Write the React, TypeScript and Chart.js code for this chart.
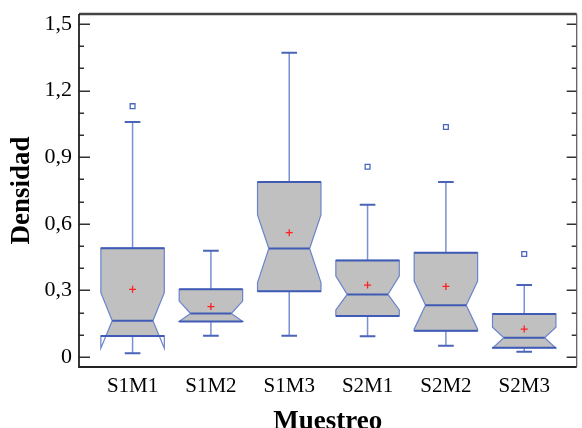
import React, { useEffect, useRef } from "react";
import { Chart, registerables } from "chart.js";

Chart.register(...registerables);

// ---- Data ----
const categories = ["S1M1", "S1M2", "S1M3", "S2M1", "S2M2", "S2M3"];
const whiskerLow = [0.017, 0.096, 0.096, 0.093, 0.051, 0.024];
const q1 = [0.095, 0.16, 0.296, 0.185, 0.118, 0.042];
const medians = [0.163, 0.196, 0.489, 0.282, 0.233, 0.087];
const q3 = [0.49, 0.305, 0.788, 0.435, 0.47, 0.194];
const whiskerHigh = [1.059, 0.479, 1.371, 0.686, 0.788, 0.324];
const means = [0.305, 0.227, 0.56, 0.324, 0.318, 0.126];
const notchLow = [0.04, 0.16, 0.335, 0.212, 0.125, 0.04];
const notchHigh = [0.29, 0.252, 0.64, 0.365, 0.342, 0.134];
const outliers = [[1.13], [], [], [0.857], [1.036], [0.464]];
const yTickValues = [0, 0.3, 0.6, 0.9, 1.2, 1.5];

const Y_MIN = -0.045;
const Y_MAX = 1.545;
const X_MIN = -0.684;
const X_MAX = 5.67;

const BOX_HALF = 0.405;
const NOTCH_HALF = 0.26;
const CAP_HALF = 0.1;

const FONT = "'Liberation Serif', 'Times New Roman', serif";

const boxPlugin = {
  id: "notchedBoxes",
  beforeDatasetsDraw(chart: any) {
    const { ctx } = chart;
    const xs = chart.scales.x;
    const ys = chart.scales.y;
    ctx.save();
    for (let i = 0; i < categories.length; i++) {
      const cx = xs.getPixelForValue(i);
      const half = xs.getPixelForValue(i + BOX_HALF) - cx;
      const nh = xs.getPixelForValue(i + NOTCH_HALF) - cx;
      const ch = xs.getPixelForValue(i + CAP_HALF) - cx;
      const yQ1 = ys.getPixelForValue(q1[i]);
      const yQ3 = ys.getPixelForValue(q3[i]);
      const yMed = ys.getPixelForValue(medians[i]);
      const yNL = ys.getPixelForValue(notchLow[i]);
      const yNH = ys.getPixelForValue(notchHigh[i]);
      const yLo = ys.getPixelForValue(whiskerLow[i]);
      const yHi = ys.getPixelForValue(whiskerHigh[i]);

      const path = () => {
        ctx.beginPath();
        ctx.moveTo(cx - half, yQ3);
        ctx.lineTo(cx + half, yQ3);
        ctx.lineTo(cx + half, yNH);
        ctx.lineTo(cx + nh, yMed);
        ctx.lineTo(cx + half, yNL);
        ctx.lineTo(cx + half, yQ1);
        ctx.lineTo(cx - half, yQ1);
        ctx.lineTo(cx - half, yNL);
        ctx.lineTo(cx - nh, yMed);
        ctx.lineTo(cx - half, yNH);
        ctx.closePath();
      };

      // whiskers
      ctx.strokeStyle = "#7A90D4";
      ctx.lineWidth = 1.5;
      ctx.beginPath();
      ctx.moveTo(cx, yQ3);
      ctx.lineTo(cx, yHi);
      ctx.moveTo(cx, yQ1);
      ctx.lineTo(cx, yLo);
      ctx.stroke();
      ctx.strokeStyle = "#4A64B8";
      ctx.lineWidth = 2;
      ctx.beginPath();
      ctx.moveTo(cx - ch, yHi);
      ctx.lineTo(cx + ch, yHi);
      ctx.moveTo(cx - ch, yLo);
      ctx.lineTo(cx + ch, yLo);
      ctx.stroke();

      // fill (clipped to the box)
      ctx.save();
      ctx.beginPath();
      ctx.rect(cx - half - 2, yQ3, 2 * half + 4, yQ1 - yQ3);
      ctx.clip();
      path();
      ctx.fillStyle = "#C0C0C0";
      ctx.fill();
      ctx.restore();

      // outline
      path();
      ctx.strokeStyle = "#6B83CC";
      ctx.lineWidth = 1.2;
      ctx.stroke();

      // quartile & median lines
      ctx.strokeStyle = "#3F5BB5";
      ctx.lineWidth = 2;
      ctx.beginPath();
      ctx.moveTo(cx - half, yQ3);
      ctx.lineTo(cx + half, yQ3);
      ctx.moveTo(cx - half, yQ1);
      ctx.lineTo(cx + half, yQ1);
      ctx.moveTo(cx - nh, yMed);
      ctx.lineTo(cx + nh, yMed);
      ctx.stroke();
    }
    ctx.restore();
  },
  afterDraw(chart: any) {
    const { ctx, chartArea } = chart;
    const ys = chart.scales.y;
    const { left, right, top, bottom } = chartArea;
    ctx.save();
    // ticks inside on left and right
    ctx.strokeStyle = "#333333";
    ctx.lineWidth = 1.5;
    ctx.beginPath();
    for (let k = 0; k <= 15; k++) {
      const v = k / 10;
      const y = Math.round(ys.getPixelForValue(v)) + 0.25;
      const major = k % 3 === 0;
      const lenL = major ? 11 : 5;
      const lenR = major ? 10 : 5;
      ctx.moveTo(left, y);
      ctx.lineTo(left + lenL, y);
      ctx.moveTo(right, y);
      ctx.lineTo(right - lenR, y);
    }
    ctx.stroke();
    // frame
    ctx.strokeStyle = "#444444";
    ctx.lineWidth = 2.5;
    ctx.beginPath();
    ctx.moveTo(left, top);
    ctx.lineTo(right, top);
    ctx.stroke();
    ctx.strokeStyle = "#222222";
    ctx.lineWidth = 1.8;
    ctx.beginPath();
    ctx.moveTo(left, top);
    ctx.lineTo(left, bottom);
    ctx.lineTo(right, bottom);
    ctx.stroke();
    ctx.strokeStyle = "#555555";
    ctx.lineWidth = 1.2;
    ctx.beginPath();
    ctx.moveTo(right, top);
    ctx.lineTo(right, bottom);
    ctx.stroke();
    ctx.restore();
  },
};

export default function App() {
  const ref = useRef<HTMLCanvasElement | null>(null);

  useEffect(() => {
    if (!ref.current) return;
    const meanPoints = categories.map((_, i) => ({ x: i, y: means[i] }));
    const outlierPoints: { x: number; y: number }[] = [];
    outliers.forEach((arr, i) => arr.forEach((v) => outlierPoints.push({ x: i, y: v })));

    const chart = new Chart(ref.current, {
      type: "scatter",
      data: {
        datasets: [
          {
            label: "Media",
            data: meanPoints,
            pointStyle: "cross",
            pointRadius: 3.5,
            borderColor: "#FF2020",
            borderWidth: 1.3,
            backgroundColor: "#FF2020",
          },
          {
            label: "Atípicos",
            data: outlierPoints,
            pointStyle: "rect",
            pointRadius: 3.4,
            borderColor: "#4A66C0",
            borderWidth: 1.3,
            backgroundColor: "#FFFFFF",
          },
        ],
      },
      options: {
        animation: false,
        responsive: false,
        devicePixelRatio: 1,
        layout: { padding: { top: 14, right: 1, left: 0, bottom: 0 } },
        plugins: {
          legend: { display: false },
          tooltip: { enabled: false },
        },
        scales: {
          x: {
            type: "linear",
            min: X_MIN,
            max: X_MAX,
            afterFit: (s: any) => {
              s.height = 61;
              s.paddingLeft = 0;
              s.paddingRight = 0;
              s.paddingTop = 0;
              s.paddingBottom = 0;
            },
            afterBuildTicks: (s: any) => {
              s.ticks = categories.map((_, i) => ({ value: i }));
            },
            ticks: {
              callback: (v: any) => categories[Math.round(Number(v))] ?? "",
              font: { family: FONT, size: 21 },
              color: "#000000",
              padding: 6.5,
              maxRotation: 0,
              autoSkip: false,
            },
            grid: { display: false, drawTicks: false, tickLength: 0 },
            border: { display: false },
            title: {
              display: true,
              text: "Muestreo",
              color: "#000000",
              font: { family: FONT, size: 27, weight: "bold", lineHeight: 1 },
              padding: { top: 0, bottom: -8 },
            },
          },
          y: {
            type: "linear",
            min: Y_MIN,
            max: Y_MAX,
            afterFit: (s: any) => {
              s.width = 79;
              s.paddingLeft = 0;
              s.paddingRight = 0;
              s.paddingTop = 0;
              s.paddingBottom = 0;
            },
            afterBuildTicks: (s: any) => {
              s.ticks = yTickValues.map((v) => ({ value: v }));
            },
            ticks: {
              callback: (v: any) => String(v).replace(".", ","),
              font: { family: FONT, size: 22 },
              color: "#000000",
              padding: 7,
              autoSkip: false,
            },
            grid: { display: false, drawTicks: false, tickLength: 0 },
            border: { display: false },
            title: {
              display: true,
              text: "Densidad",
              color: "#000000",
              font: { family: FONT, size: 27, weight: "bold", lineHeight: 1 },
              padding: { top: 9, bottom: 0 },
            },
          },
        },
      },
      plugins: [boxPlugin],
    } as any);

    return () => chart.destroy();
  }, []);

  return (
    <div style={{ position: "absolute", left: 0, top: 0, width: 582, height: 428, background: "#fff" }}>
      <canvas ref={ref} width={582} height={428} style={{ display: "block" }} />
    </div>
  );
}
